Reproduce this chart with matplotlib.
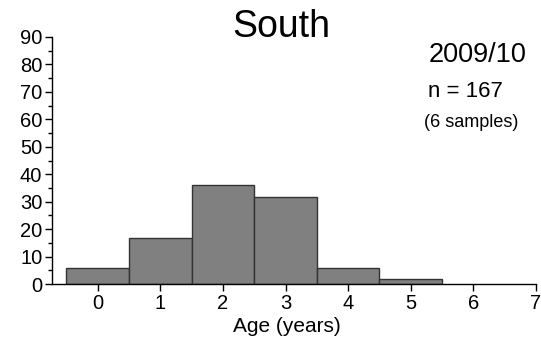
import matplotlib
matplotlib.use("Agg")
import matplotlib.pyplot as plt
from matplotlib.ticker import MultipleLocator

ages = [0, 1, 2, 3, 4, 5]
percent = [6.0, 16.8, 35.9, 31.7, 6.0, 1.8]
title = "South"
season = "2009/10"
n_label = "n = 167"
samples_label = "(6 samples)"
xlabel = "Age (years)"

plt.rcParams['font.family'] = ['Liberation Sans', 'DejaVu Sans']

W, H = 541, 345
fig = plt.figure(figsize=(W / 100, H / 100), dpi=100)
ax = fig.add_axes([52 / W, 1 - 284 / H, (536 - 52) / W, (284 - 37) / H])

ax.bar(ages, percent, width=1.0, color='#808080', edgecolor='#333333', linewidth=1.0)

ax.set_xlim(-0.73, 7)
ax.set_ylim(0, 90)
ax.xaxis.set_major_locator(MultipleLocator(1))
ax.yaxis.set_major_locator(MultipleLocator(10))
ax.yaxis.set_minor_locator(MultipleLocator(5))
for s in ['top', 'right']:
    ax.spines[s].set_visible(False)
for s in ['left', 'bottom']:
    ax.spines[s].set_linewidth(1.0)
ax.tick_params(axis='both', which='major', direction='out', length=5, width=1, labelsize=14.5, pad=2)
ax.tick_params(axis='y', which='minor', direction='out', length=3, width=1)
ax.set_xlabel(xlabel, fontsize=15)
ax.xaxis.set_label_coords((287 - 52) / (536 - 52), -(327 - 284) / (284 - 37))
ax.xaxis.label.set_va('center')

fig.text(281 / W, 1 - 27 / H, title, fontsize=27, ha='center', va='center')
fig.text(478 / W, 1 - 55 / H, season, fontsize=19.5, ha='center', va='center')
fig.text(428 / W, 1 - 92 / H, n_label, fontsize=16, ha='left', va='center')
fig.text(471 / W, 1 - 123 / H, samples_label, fontsize=13, ha='center', va='center')

fig.savefig("out.png", dpi=100)
